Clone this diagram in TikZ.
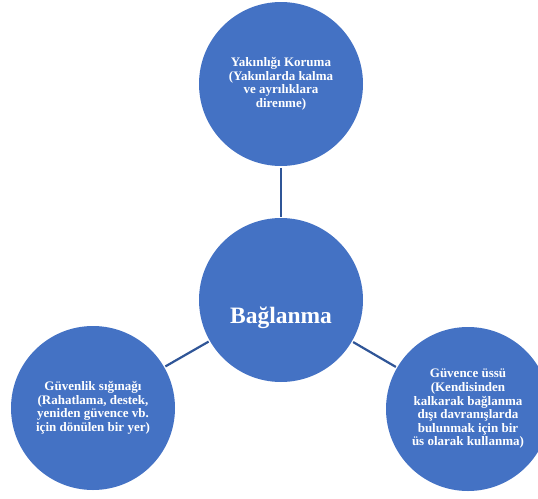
\documentclass[tikz,border=0pt]{standalone}
\usepackage{fontspec}
\setmainfont{Liberation Serif}
\usepackage{xcolor}
\usepackage{tikz}
\definecolor{bubblefill}{HTML}{4472C4}
\definecolor{linkcol}{HTML}{2F5597}

\begin{document}
\begin{tikzpicture}[x=1pt,y=-1pt,line join=round,
  bubble/.style={circle,fill=bubblefill,minimum size=164pt,inner sep=0pt,
    outer sep=1.5pt,text=white,align=center,
    font=\bfseries\fontsize{13}{13.6}\selectfont},
  link/.style={draw=linkcol,line width=2.2pt}]
  \useasboundingbox (0,0) rectangle (538,498);
  \clip (0,0) rectangle (538,498);
  \node[bubble,font=\bfseries\fontsize{23.5}{26}\selectfont] (bag) at (281,300) {\raisebox{-23pt}[0pt][0pt]{Bağlanma}};
  \node[bubble] (yak) at (281,84) {Yakınlığı Koruma\\(Yakınlarda kalma\\ve ayrılıklara\\direnme)};
  \node[bubble] (sig) at (93,408) {Güvenlik sığınağı\\(Rahatlama, destek,\\yeniden güvence vb.\\için dönülen bir yer)};
  \node[bubble] (uss) at (468,409) {Güvence üssü\\(Kendisinden\\kalkarak bağlanma\\dışı davranışlarda\\bulunmak için bir\\üs olarak kullanma)};
  \draw[link] (bag) -- (yak);
  \draw[link] (bag) -- (sig);
  \draw[link] (bag) -- (uss);
\end{tikzpicture}
\end{document}
